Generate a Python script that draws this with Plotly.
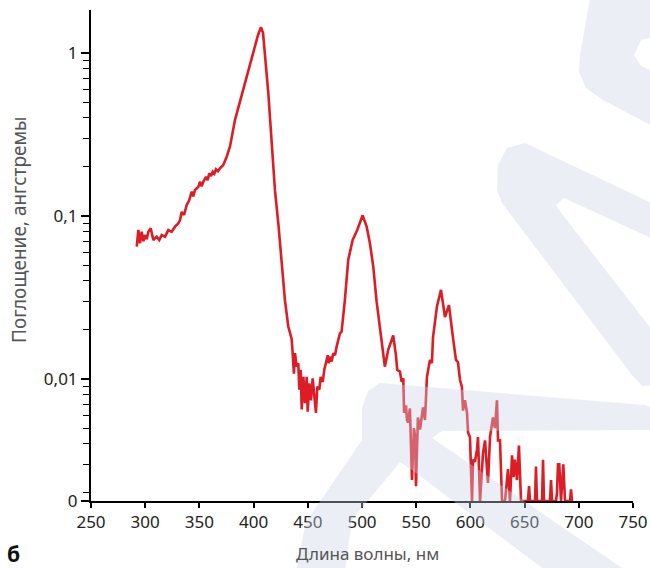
import plotly.graph_objects as go

# ---- data ----
wavelength_nm = [
    292.2, 293.7, 295.2, 296.8, 298.3, 299.8, 301.4, 302.9, 305.1, 307.5,
    310.6, 313.0, 315.2, 318.3, 321.3, 324.4, 327.5, 330.5, 332.1, 333.7,
    335.8, 338.3, 340.7, 342.9, 344.4, 345.9, 349.0, 350.6, 352.1, 353.6,
    356.1, 357.6, 359.1, 360.7, 362.3, 363.8, 365.3, 367.2, 369.0, 372.0,
    375.2, 378.2, 382.8, 392.1, 399.4, 404.1, 406.8, 408.7, 413.6, 418.2,
    419.7, 422.8, 425.9, 428.9, 432.0, 435.1, 436.0, 437.2, 438.2, 439.7,
    441.2, 442.2, 443.4, 444.4, 445.9, 447.4, 449.0, 449.9, 451.4, 453.0,
    454.5, 456.0, 457.5, 458.8, 460.6, 461.9, 463.8, 465.2, 467.5, 468.4,
    469.3, 470.5, 472.0, 473.5, 475.1, 476.6, 479.7, 481.2, 484.2, 487.3,
    491.4, 495.6, 500.6, 504.3, 507.3, 510.4, 513.5, 516.5, 521.1, 524.2,
    528.8, 531.3, 532.5, 535.0, 536.6, 538.1, 538.8, 540.6, 541.5, 542.4,
    544.2, 546.1, 547.0, 547.9, 548.9, 549.8, 551.6, 553.5, 556.3, 558.1,
    559.9, 562.7, 564.5, 565.5, 569.2, 572.9, 576.5, 580.2, 583.9, 586.7,
    588.5, 590.4, 592.2, 593.2, 595.0, 596.9, 597.8, 599.6, 601.5, 602.4,
    604.2, 606.1, 607.0, 607.9, 608.9, 611.6, 613.5, 615.3, 616.2, 618.1,
    620.8, 622.7, 624.5, 625.5, 627.3, 629.2, 631.9, 634.7, 636.5, 638.4,
    639.8, 641.1, 643.0, 644.8, 646.7, 653.1, 654.1, 655.0, 659.6, 660.5,
    661.4, 666.1, 667.0, 667.9, 673.4, 674.4, 675.3, 679.0, 679.9, 680.8,
    682.0, 683.6, 685.7, 687.3, 691.9, 692.8, 693.7,
]
absorbance = [
    0.0648, 0.0821, 0.068, 0.080, 0.070, 0.0764, 0.072, 0.080, 0.084, 0.0713,
    0.0747, 0.0713, 0.0764, 0.0747, 0.082, 0.080, 0.086, 0.090, 0.0945, 0.106,
    0.1014, 0.1168, 0.1254, 0.141, 0.132, 0.1444, 0.151, 0.1623, 0.152, 0.162,
    0.174, 0.166, 0.183, 0.176, 0.187, 0.182, 0.1934, 0.188, 0.196, 0.2056,
    0.231, 0.266, 0.388, 0.655, 1.0, 1.29, 1.44, 1.33, 0.566, 0.221,
    0.144, 0.090, 0.051, 0.0305, 0.021, 0.0176, 0.0146, 0.0108, 0.0144, 0.0119,
    0.0125, 0.0086, 0.0114, 0.0065, 0.0103, 0.0071, 0.0103, 0.0063, 0.0094, 0.0074,
    0.0101, 0.0082, 0.0062, 0.0090, 0.0086, 0.0103, 0.0096, 0.0114, 0.0131, 0.0140,
    0.0125, 0.0137, 0.0128, 0.0144, 0.0140, 0.0158, 0.0191, 0.0195, 0.0305, 0.0537,
    0.0713, 0.082, 0.101, 0.086, 0.068, 0.0489, 0.0298, 0.0209, 0.0119, 0.0151,
    0.0185, 0.0140, 0.0114, 0.0111, 0.0096, 0.0101, 0.0062, 0.0069, 0.0056, 0.0054,
    0.0066, 0.0024, 0.0038, 0.0050, 0.0045, 0.0022, 0.0058, 0.0049, 0.0067, 0.0056,
    0.0103, 0.0131, 0.0125, 0.018, 0.028, 0.0352, 0.024, 0.0284, 0.018, 0.0131,
    0.0127, 0.0099, 0.0089, 0.0064, 0.0074, 0.0062, 0.0047, 0.0044, 0, 0.0032,
    0.0031, 0.0037, 0.0044, 0.0030, 0, 0.0035, 0.0042, 0.0028, 0.0023, 0.0044,
    0.0058, 0.0050, 0.0074, 0.0042, 0.0042, 0, 0, 0.0028, 0, 0.0034,
    0.0025, 0.0032, 0.0024, 0.0039, 0, 0, 0.0022, 0, 0, 0.0029,
    0, 0, 0.0032, 0, 0, 0.0024, 0, 0, 0.0020, 0.0030,
    0.0030, 0, 0.0030, 0, 0, 0.0021, 0,
]
x_tick_vals = [250, 300, 350, 400, 450, 500, 550, 600, 650, 700, 750]
y_tick_text = ["0", "0,01", "0,1", "1"]
y_minor_vals = [0.002, 0.003, 0.004, 0.005, 0.006, 0.007, 0.008, 0.009,
                0.02, 0.03, 0.04, 0.05, 0.06, 0.07, 0.08, 0.09,
                0.2, 0.3, 0.4, 0.5, 0.6, 0.7, 0.8, 0.9]

# log axis: the "0" label sits at the bottom of the range
LOG_MIN, LOG_MAX = -2.7485, 0.264
FLOOR = 10 ** LOG_MIN
y_plot = [v if v > 0 else FLOOR for v in absorbance]
y_tick_vals = [FLOOR, 0.01, 0.1, 1]

# layout geometry (page pixels)
W, H = 650, 568
L, R, T, B = 91, 17, 10, 67
PW, PH = W - L - R, H - T - B


def pp(px, py):
    return ((px - L) / PW, (H - B - py) / PH)


def path(points):
    pts = [pp(*p) for p in points]
    return "M " + " L ".join(f"{x:.4f},{y:.4f}" for x, y in pts) + " Z"


# decorative background watermark (page-pixel outline)
watermark = [
    [(590, -2), (660, -2), (660, 35), (641, 40), (634, 55), (641, 66), (660, 74),
     (660, 130), (603, 100), (586, 88), (579, 72), (580, 55)],
    [(660, 207), (525, 143), (507, 148), (498, 165), (497, 190), (502, 203),
     (632, 375), (642, 386), (660, 385), (660, 340), (562, 214), (556, 205),
     (564, 198), (660, 242)],
    [(380, 383), (645, 405), (660, 410), (660, 430), (442, 431), (432, 438),
     (625, 570), (545, 570), (412, 470), (400, 462), (352, 520), (345, 570),
     (296, 570), (306, 522), (362, 440), (362, 408), (368, 391)],
]

fig = go.Figure()
fig.add_trace(go.Scatter(
    x=wavelength_nm, y=y_plot, mode="lines",
    line=dict(color="#dc1d25", width=2.6),
    showlegend=False, hoverinfo="skip",
))

shapes = []
for poly in watermark:
    shapes.append(dict(
        type="path", path=path(poly), xref="paper", yref="paper",
        fillcolor="rgb(203,209,230)", opacity=0.38, line=dict(width=0),
        layer="above",
    ))

FONT = "Noto Sans, Open Sans, sans-serif"
tick_font = dict(family=FONT, size=17, color="#222222")
fig.update_layout(
    width=W, height=H,
    margin=dict(l=L, r=R, t=T, b=B, autoexpand=False),
    paper_bgcolor="white", plot_bgcolor="white",
    shapes=shapes,
    xaxis=dict(
        range=[250, 750], tickvals=x_tick_vals, ticks="outside", ticklen=5,
        tickwidth=1.5, tickcolor="black", showline=True, linecolor="black",
        linewidth=2, showgrid=False, zeroline=False, tickfont=tick_font,
    ),
    yaxis=dict(
        type="log", range=[LOG_MIN, LOG_MAX], tickvals=y_tick_vals,
        ticktext=y_tick_text, ticks="outside", ticklen=8, tickwidth=1.5,
        tickcolor="black", showline=True, linecolor="black", linewidth=2,
        showgrid=False, zeroline=False, tickfont=tick_font,
        minor=dict(tickvals=y_minor_vals, ticks="outside", ticklen=6,
                   tickwidth=1.2, tickcolor="black", showgrid=False),
    ),
    annotations=[
        dict(text="Поглощение, ангстремы", textangle=-90, xref="paper", yref="paper",
             x=pp(19, 230)[0], y=pp(19, 230)[1], xanchor="center", yanchor="middle",
             showarrow=False, font=dict(family=FONT, size=19, color="#555555")),
        dict(text="Длина волны, нм", xref="paper", yref="paper",
             x=pp(367, 553)[0], y=pp(367, 553)[1], xanchor="center", yanchor="middle",
             showarrow=False, font=dict(family=FONT, size=17, color="#555555")),
        dict(text="<b>б</b>", xref="paper", yref="paper", xanchor="left", yanchor="middle",
             x=pp(5, 554)[0], y=pp(5, 554)[1], showarrow=False,
             font=dict(family=FONT, size=21, color="#111111")),
    ],
)

fig.write_html(
    "out.html",
    config={"displayModeBar": False},
    post_script="document.body.style.margin='0';document.body.style.overflow='hidden';",
)
